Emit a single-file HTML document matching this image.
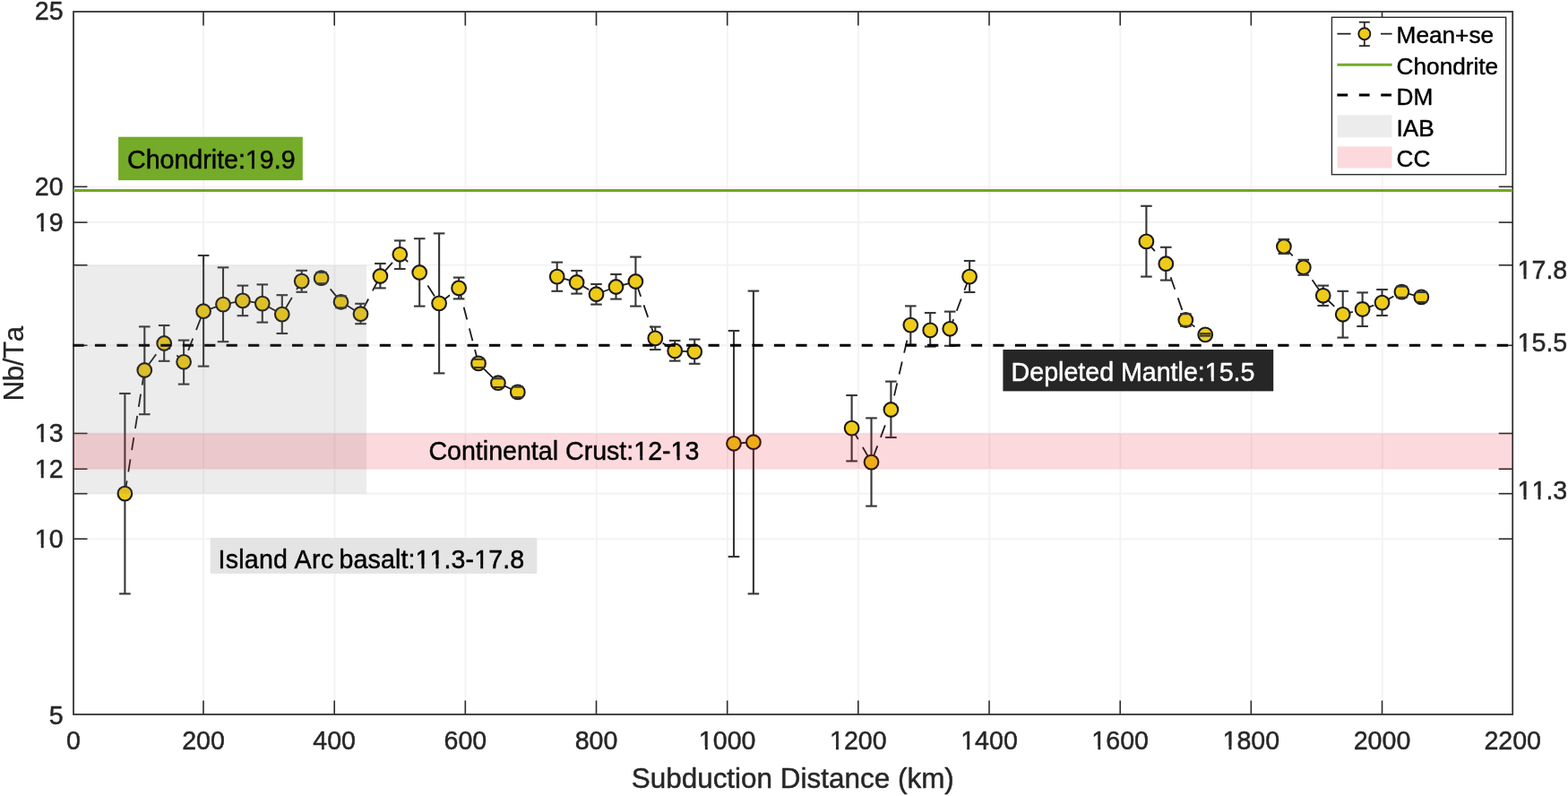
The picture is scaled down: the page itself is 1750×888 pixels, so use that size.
<!DOCTYPE html>
<html lang="en">
<head>
<meta charset="utf-8">
<title>Nb/Ta vs Subduction Distance</title>
<style>
html,body{margin:0;padding:0;background:#ffffff;}
body{width:1750px;height:888px;overflow:hidden;}
svg{display:block;}
</style>
</head>
<body>
<svg width="1750" height="888" viewBox="0 0 1750 888" font-family='"Liberation Sans", Arial, Helvetica, sans-serif'>
<style>text{stroke-width:0.45px;stroke-linejoin:round;paint-order:stroke fill;font-kerning:none;white-space:pre}</style>
<rect x="0" y="0" width="1750" height="888" fill="#ffffff"/>
<g stroke="#f3f3f3" stroke-width="2" fill="none">
<line x1="227.2" y1="13.0" x2="227.2" y2="797.0"/>
<line x1="373.4" y1="13.0" x2="373.4" y2="797.0"/>
<line x1="519.5" y1="13.0" x2="519.5" y2="797.0"/>
<line x1="665.7" y1="13.0" x2="665.7" y2="797.0"/>
<line x1="811.9" y1="13.0" x2="811.9" y2="797.0"/>
<line x1="958.0" y1="13.0" x2="958.0" y2="797.0"/>
<line x1="1104.2" y1="13.0" x2="1104.2" y2="797.0"/>
<line x1="1250.4" y1="13.0" x2="1250.4" y2="797.0"/>
<line x1="1396.5" y1="13.0" x2="1396.5" y2="797.0"/>
<line x1="1542.7" y1="13.0" x2="1542.7" y2="797.0"/>
<line x1="82.0" y1="601.2" x2="1688.2" y2="601.2"/>
<line x1="82.0" y1="523.2" x2="1688.2" y2="523.2"/>
<line x1="82.0" y1="483.5" x2="1688.2" y2="483.5"/>
<line x1="82.0" y1="248.1" x2="1688.2" y2="248.1"/>
<line x1="82.0" y1="550.7" x2="1688.2" y2="550.7"/>
<line x1="82.0" y1="385.3" x2="1688.2" y2="385.3"/>
<line x1="82.0" y1="295.8" x2="1688.2" y2="295.8"/>
</g>
<rect x="82.0" y="13.0" width="1606.2" height="784.0" fill="none" stroke="#2e2e2e" stroke-width="1.75"/>
<g stroke="#2e2e2e" stroke-width="1.6" fill="none">
<line x1="227.0" y1="797.0" x2="227.0" y2="781.5"/>
<line x1="227.0" y1="13.0" x2="227.0" y2="28.5"/>
<line x1="373.2" y1="797.0" x2="373.2" y2="781.5"/>
<line x1="373.2" y1="13.0" x2="373.2" y2="28.5"/>
<line x1="519.3" y1="797.0" x2="519.3" y2="781.5"/>
<line x1="519.3" y1="13.0" x2="519.3" y2="28.5"/>
<line x1="665.5" y1="797.0" x2="665.5" y2="781.5"/>
<line x1="665.5" y1="13.0" x2="665.5" y2="28.5"/>
<line x1="811.7" y1="797.0" x2="811.7" y2="781.5"/>
<line x1="811.7" y1="13.0" x2="811.7" y2="28.5"/>
<line x1="957.8" y1="797.0" x2="957.8" y2="781.5"/>
<line x1="957.8" y1="13.0" x2="957.8" y2="28.5"/>
<line x1="1104.0" y1="797.0" x2="1104.0" y2="781.5"/>
<line x1="1104.0" y1="13.0" x2="1104.0" y2="28.5"/>
<line x1="1250.2" y1="797.0" x2="1250.2" y2="781.5"/>
<line x1="1250.2" y1="13.0" x2="1250.2" y2="28.5"/>
<line x1="1396.3" y1="797.0" x2="1396.3" y2="781.5"/>
<line x1="1396.3" y1="13.0" x2="1396.3" y2="28.5"/>
<line x1="1542.5" y1="797.0" x2="1542.5" y2="781.5"/>
<line x1="1542.5" y1="13.0" x2="1542.5" y2="28.5"/>
<line x1="82.0" y1="601.2" x2="97.5" y2="601.2"/>
<line x1="1688.2" y1="601.2" x2="1672.7" y2="601.2"/>
<line x1="82.0" y1="523.2" x2="97.5" y2="523.2"/>
<line x1="1688.2" y1="523.2" x2="1672.7" y2="523.2"/>
<line x1="82.0" y1="483.5" x2="97.5" y2="483.5"/>
<line x1="1688.2" y1="483.5" x2="1672.7" y2="483.5"/>
<line x1="82.0" y1="248.1" x2="97.5" y2="248.1"/>
<line x1="1688.2" y1="248.1" x2="1672.7" y2="248.1"/>
<line x1="82.0" y1="208.3" x2="97.5" y2="208.3"/>
<line x1="1688.2" y1="208.3" x2="1672.7" y2="208.3"/>
<line x1="82.0" y1="550.7" x2="97.5" y2="550.7"/>
<line x1="1688.2" y1="550.7" x2="1672.7" y2="550.7"/>
<line x1="82.0" y1="385.3" x2="97.5" y2="385.3"/>
<line x1="1688.2" y1="385.3" x2="1672.7" y2="385.3"/>
<line x1="82.0" y1="295.8" x2="97.5" y2="295.8"/>
<line x1="1688.2" y1="295.8" x2="1672.7" y2="295.8"/>
</g>
<line x1="99.0" y1="208.4" x2="1671.2" y2="208.4" stroke="#fbf1f6" stroke-width="1.6"/>
<line x1="82.0" y1="212.6" x2="1688.2" y2="212.6" stroke="#70a824" stroke-width="3"/>
<g stroke="#1c1c1c" stroke-width="1.8" fill="none" stroke-dasharray="14.3 10.2">
<polyline points="139.4,550.6 161.3,413.0 183.2,383.0 205.1,403.8 227.1,347.2 249.0,339.6 270.9,335.4 292.8,338.6 314.8,350.6 336.7,313.6 358.6,310.2 380.5,336.8 402.5,350.2 424.4,308.0 446.3,283.8 468.2,304.0 490.1,338.4 512.1,321.4 534.0,405.4 555.9,427.2 577.8,437.4"/>
<polyline points="621.7,308.6 643.6,315.0 665.5,328.2 687.5,320.0 709.4,314.0 731.3,377.4 753.2,391.4 775.2,392.4"/>
<polyline points="819.0,494.8 840.9,493.2"/>
<polyline points="950.6,477.6 972.5,515.6 994.4,457.0 1016.3,362.6 1038.2,368.4 1060.2,366.8 1082.1,308.6"/>
<polyline points="1279.4,269.4 1301.3,294.2 1323.3,357.0 1345.2,373.4"/>
<polyline points="1432.9,275.0 1454.8,298.2 1476.7,329.8 1498.7,350.8 1520.6,345.0 1542.5,337.6 1564.4,325.6 1586.3,331.4"/>
</g>
<g stroke="#363636" stroke-width="2.1" fill="none">
<line x1="139.4" y1="439.0" x2="139.4" y2="662.4"/>
<line x1="161.3" y1="364.4" x2="161.3" y2="462.2"/>
<line x1="183.2" y1="363.0" x2="183.2" y2="402.8"/>
<line x1="205.1" y1="379.6" x2="205.1" y2="428.6"/>
<line x1="227.1" y1="285.0" x2="227.1" y2="408.6"/>
<line x1="249.0" y1="298.4" x2="249.0" y2="381.2"/>
<line x1="270.9" y1="318.6" x2="270.9" y2="352.2"/>
<line x1="292.8" y1="317.4" x2="292.8" y2="359.6"/>
<line x1="314.8" y1="329.2" x2="314.8" y2="372.0"/>
<line x1="336.7" y1="301.8" x2="336.7" y2="325.8"/>
<line x1="358.6" y1="304.0" x2="358.6" y2="316.2"/>
<line x1="380.5" y1="330.3" x2="380.5" y2="343.3"/>
<line x1="402.5" y1="338.8" x2="402.5" y2="361.2"/>
<line x1="424.4" y1="294.0" x2="424.4" y2="321.4"/>
<line x1="446.3" y1="268.4" x2="446.3" y2="300.0"/>
<line x1="468.2" y1="266.2" x2="468.2" y2="341.6"/>
<line x1="490.1" y1="260.4" x2="490.1" y2="416.4"/>
<line x1="512.1" y1="309.6" x2="512.1" y2="333.4"/>
<line x1="534.0" y1="400.8" x2="534.0" y2="410.0"/>
<line x1="555.9" y1="422.3" x2="555.9" y2="432.0"/>
<line x1="577.8" y1="431.6" x2="577.8" y2="443.2"/>
<line x1="621.7" y1="292.6" x2="621.7" y2="324.8"/>
<line x1="643.6" y1="302.0" x2="643.6" y2="327.6"/>
<line x1="665.5" y1="317.0" x2="665.5" y2="339.6"/>
<line x1="687.5" y1="306.0" x2="687.5" y2="333.6"/>
<line x1="709.4" y1="286.6" x2="709.4" y2="341.6"/>
<line x1="731.3" y1="364.6" x2="731.3" y2="390.0"/>
<line x1="753.2" y1="380.0" x2="753.2" y2="402.6"/>
<line x1="775.2" y1="378.6" x2="775.2" y2="405.8"/>
<line x1="819.0" y1="369.0" x2="819.0" y2="621.0"/>
<line x1="840.9" y1="324.6" x2="840.9" y2="662.4"/>
<line x1="950.6" y1="441.0" x2="950.6" y2="514.4"/>
<line x1="972.5" y1="466.4" x2="972.5" y2="564.6"/>
<line x1="994.4" y1="425.6" x2="994.4" y2="488.0"/>
<line x1="1016.3" y1="341.4" x2="1016.3" y2="384.6"/>
<line x1="1038.2" y1="349.0" x2="1038.2" y2="386.6"/>
<line x1="1060.2" y1="347.6" x2="1060.2" y2="385.8"/>
<line x1="1082.1" y1="291.0" x2="1082.1" y2="326.0"/>
<line x1="1279.4" y1="229.8" x2="1279.4" y2="308.6"/>
<line x1="1301.3" y1="275.8" x2="1301.3" y2="312.6"/>
<line x1="1323.3" y1="350.2" x2="1323.3" y2="363.8"/>
<line x1="1345.2" y1="372.2" x2="1345.2" y2="374.6"/>
<line x1="1432.9" y1="267.0" x2="1432.9" y2="283.0"/>
<line x1="1454.8" y1="289.8" x2="1454.8" y2="306.8"/>
<line x1="1476.7" y1="318.6" x2="1476.7" y2="341.0"/>
<line x1="1498.7" y1="324.8" x2="1498.7" y2="376.6"/>
<line x1="1520.6" y1="326.4" x2="1520.6" y2="364.0"/>
<line x1="1542.5" y1="323.0" x2="1542.5" y2="352.0"/>
<line x1="1564.4" y1="319.6" x2="1564.4" y2="331.8"/>
<line x1="1586.3" y1="326.0" x2="1586.3" y2="337.0"/>
</g>
<g stroke="#1a1a1a" stroke-width="2.1" fill="#eecb18">
<circle cx="139.4" cy="550.6" r="7.85"/>
<circle cx="161.3" cy="413.0" r="7.85"/>
<circle cx="183.2" cy="383.0" r="7.85"/>
<circle cx="205.1" cy="403.8" r="7.85"/>
<circle cx="227.1" cy="347.2" r="7.85"/>
<circle cx="249.0" cy="339.6" r="7.85"/>
<circle cx="270.9" cy="335.4" r="7.85"/>
<circle cx="292.8" cy="338.6" r="7.85"/>
<circle cx="314.8" cy="350.6" r="7.85"/>
<circle cx="336.7" cy="313.6" r="7.85"/>
<circle cx="358.6" cy="310.2" r="7.85"/>
<circle cx="380.5" cy="336.8" r="7.85"/>
<circle cx="402.5" cy="350.2" r="7.85"/>
<circle cx="424.4" cy="308.0" r="7.85"/>
<circle cx="446.3" cy="283.8" r="7.85"/>
<circle cx="468.2" cy="304.0" r="7.85"/>
<circle cx="490.1" cy="338.4" r="7.85"/>
<circle cx="512.1" cy="321.4" r="7.85"/>
<circle cx="534.0" cy="405.4" r="7.85"/>
<circle cx="555.9" cy="427.2" r="7.85"/>
<circle cx="577.8" cy="437.4" r="7.85"/>
<circle cx="621.7" cy="308.6" r="7.85"/>
<circle cx="643.6" cy="315.0" r="7.85"/>
<circle cx="665.5" cy="328.2" r="7.85"/>
<circle cx="687.5" cy="320.0" r="7.85"/>
<circle cx="709.4" cy="314.0" r="7.85"/>
<circle cx="731.3" cy="377.4" r="7.85"/>
<circle cx="753.2" cy="391.4" r="7.85"/>
<circle cx="775.2" cy="392.4" r="7.85"/>
<circle cx="819.0" cy="494.8" r="7.85"/>
<circle cx="840.9" cy="493.2" r="7.85"/>
<circle cx="950.6" cy="477.6" r="7.85"/>
<circle cx="972.5" cy="515.6" r="7.85"/>
<circle cx="994.4" cy="457.0" r="7.85"/>
<circle cx="1016.3" cy="362.6" r="7.85"/>
<circle cx="1038.2" cy="368.4" r="7.85"/>
<circle cx="1060.2" cy="366.8" r="7.85"/>
<circle cx="1082.1" cy="308.6" r="7.85"/>
<circle cx="1279.4" cy="269.4" r="7.85"/>
<circle cx="1301.3" cy="294.2" r="7.85"/>
<circle cx="1323.3" cy="357.0" r="7.85"/>
<circle cx="1345.2" cy="373.4" r="7.85"/>
<circle cx="1432.9" cy="275.0" r="7.85"/>
<circle cx="1454.8" cy="298.2" r="7.85"/>
<circle cx="1476.7" cy="329.8" r="7.85"/>
<circle cx="1498.7" cy="350.8" r="7.85"/>
<circle cx="1520.6" cy="345.0" r="7.85"/>
<circle cx="1542.5" cy="337.6" r="7.85"/>
<circle cx="1564.4" cy="325.6" r="7.85"/>
<circle cx="1586.3" cy="331.4" r="7.85"/>
</g>
<g stroke="#363636" stroke-width="2.1" fill="none">
<line x1="133.1" y1="439.0" x2="145.7" y2="439.0"/>
<line x1="133.1" y1="662.4" x2="145.7" y2="662.4"/>
<line x1="155.0" y1="364.4" x2="167.6" y2="364.4"/>
<line x1="155.0" y1="462.2" x2="167.6" y2="462.2"/>
<line x1="176.9" y1="363.0" x2="189.5" y2="363.0"/>
<line x1="176.9" y1="402.8" x2="189.5" y2="402.8"/>
<line x1="198.8" y1="379.6" x2="211.4" y2="379.6"/>
<line x1="198.8" y1="428.6" x2="211.4" y2="428.6"/>
<line x1="220.8" y1="285.0" x2="233.4" y2="285.0"/>
<line x1="220.8" y1="408.6" x2="233.4" y2="408.6"/>
<line x1="242.7" y1="298.4" x2="255.3" y2="298.4"/>
<line x1="242.7" y1="381.2" x2="255.3" y2="381.2"/>
<line x1="264.6" y1="318.6" x2="277.2" y2="318.6"/>
<line x1="264.6" y1="352.2" x2="277.2" y2="352.2"/>
<line x1="286.5" y1="317.4" x2="299.1" y2="317.4"/>
<line x1="286.5" y1="359.6" x2="299.1" y2="359.6"/>
<line x1="308.5" y1="329.2" x2="321.1" y2="329.2"/>
<line x1="308.5" y1="372.0" x2="321.1" y2="372.0"/>
<line x1="330.4" y1="301.8" x2="343.0" y2="301.8"/>
<line x1="330.4" y1="325.8" x2="343.0" y2="325.8"/>
<line x1="352.3" y1="304.0" x2="364.9" y2="304.0"/>
<line x1="352.3" y1="316.2" x2="364.9" y2="316.2"/>
<line x1="374.2" y1="330.3" x2="386.8" y2="330.3"/>
<line x1="374.2" y1="343.3" x2="386.8" y2="343.3"/>
<line x1="396.2" y1="338.8" x2="408.8" y2="338.8"/>
<line x1="396.2" y1="361.2" x2="408.8" y2="361.2"/>
<line x1="418.1" y1="294.0" x2="430.7" y2="294.0"/>
<line x1="418.1" y1="321.4" x2="430.7" y2="321.4"/>
<line x1="440.0" y1="268.4" x2="452.6" y2="268.4"/>
<line x1="440.0" y1="300.0" x2="452.6" y2="300.0"/>
<line x1="461.9" y1="266.2" x2="474.5" y2="266.2"/>
<line x1="461.9" y1="341.6" x2="474.5" y2="341.6"/>
<line x1="483.8" y1="260.4" x2="496.4" y2="260.4"/>
<line x1="483.8" y1="416.4" x2="496.4" y2="416.4"/>
<line x1="505.8" y1="309.6" x2="518.4" y2="309.6"/>
<line x1="505.8" y1="333.4" x2="518.4" y2="333.4"/>
<line x1="527.7" y1="400.8" x2="540.3" y2="400.8"/>
<line x1="527.7" y1="410.0" x2="540.3" y2="410.0"/>
<line x1="549.6" y1="422.3" x2="562.2" y2="422.3"/>
<line x1="549.6" y1="432.0" x2="562.2" y2="432.0"/>
<line x1="571.5" y1="431.6" x2="584.1" y2="431.6"/>
<line x1="571.5" y1="443.2" x2="584.1" y2="443.2"/>
<line x1="615.4" y1="292.6" x2="628.0" y2="292.6"/>
<line x1="615.4" y1="324.8" x2="628.0" y2="324.8"/>
<line x1="637.3" y1="302.0" x2="649.9" y2="302.0"/>
<line x1="637.3" y1="327.6" x2="649.9" y2="327.6"/>
<line x1="659.2" y1="317.0" x2="671.8" y2="317.0"/>
<line x1="659.2" y1="339.6" x2="671.8" y2="339.6"/>
<line x1="681.2" y1="306.0" x2="693.8" y2="306.0"/>
<line x1="681.2" y1="333.6" x2="693.8" y2="333.6"/>
<line x1="703.1" y1="286.6" x2="715.7" y2="286.6"/>
<line x1="703.1" y1="341.6" x2="715.7" y2="341.6"/>
<line x1="725.0" y1="364.6" x2="737.6" y2="364.6"/>
<line x1="725.0" y1="390.0" x2="737.6" y2="390.0"/>
<line x1="746.9" y1="380.0" x2="759.5" y2="380.0"/>
<line x1="746.9" y1="402.6" x2="759.5" y2="402.6"/>
<line x1="768.9" y1="378.6" x2="781.5" y2="378.6"/>
<line x1="768.9" y1="405.8" x2="781.5" y2="405.8"/>
<line x1="812.7" y1="369.0" x2="825.3" y2="369.0"/>
<line x1="812.7" y1="621.0" x2="825.3" y2="621.0"/>
<line x1="834.6" y1="324.6" x2="847.2" y2="324.6"/>
<line x1="834.6" y1="662.4" x2="847.2" y2="662.4"/>
<line x1="944.3" y1="441.0" x2="956.9" y2="441.0"/>
<line x1="944.3" y1="514.4" x2="956.9" y2="514.4"/>
<line x1="966.2" y1="466.4" x2="978.8" y2="466.4"/>
<line x1="966.2" y1="564.6" x2="978.8" y2="564.6"/>
<line x1="988.1" y1="425.6" x2="1000.7" y2="425.6"/>
<line x1="988.1" y1="488.0" x2="1000.7" y2="488.0"/>
<line x1="1010.0" y1="341.4" x2="1022.6" y2="341.4"/>
<line x1="1010.0" y1="384.6" x2="1022.6" y2="384.6"/>
<line x1="1031.9" y1="349.0" x2="1044.5" y2="349.0"/>
<line x1="1031.9" y1="386.6" x2="1044.5" y2="386.6"/>
<line x1="1053.9" y1="347.6" x2="1066.5" y2="347.6"/>
<line x1="1053.9" y1="385.8" x2="1066.5" y2="385.8"/>
<line x1="1075.8" y1="291.0" x2="1088.4" y2="291.0"/>
<line x1="1075.8" y1="326.0" x2="1088.4" y2="326.0"/>
<line x1="1273.1" y1="229.8" x2="1285.7" y2="229.8"/>
<line x1="1273.1" y1="308.6" x2="1285.7" y2="308.6"/>
<line x1="1295.0" y1="275.8" x2="1307.6" y2="275.8"/>
<line x1="1295.0" y1="312.6" x2="1307.6" y2="312.6"/>
<line x1="1317.0" y1="350.2" x2="1329.6" y2="350.2"/>
<line x1="1317.0" y1="363.8" x2="1329.6" y2="363.8"/>
<line x1="1338.9" y1="372.2" x2="1351.5" y2="372.2"/>
<line x1="1338.9" y1="374.6" x2="1351.5" y2="374.6"/>
<line x1="1426.6" y1="267.0" x2="1439.2" y2="267.0"/>
<line x1="1426.6" y1="283.0" x2="1439.2" y2="283.0"/>
<line x1="1448.5" y1="289.8" x2="1461.1" y2="289.8"/>
<line x1="1448.5" y1="306.8" x2="1461.1" y2="306.8"/>
<line x1="1470.4" y1="318.6" x2="1483.0" y2="318.6"/>
<line x1="1470.4" y1="341.0" x2="1483.0" y2="341.0"/>
<line x1="1492.4" y1="324.8" x2="1505.0" y2="324.8"/>
<line x1="1492.4" y1="376.6" x2="1505.0" y2="376.6"/>
<line x1="1514.3" y1="326.4" x2="1526.9" y2="326.4"/>
<line x1="1514.3" y1="364.0" x2="1526.9" y2="364.0"/>
<line x1="1536.2" y1="323.0" x2="1548.8" y2="323.0"/>
<line x1="1536.2" y1="352.0" x2="1548.8" y2="352.0"/>
<line x1="1558.1" y1="319.6" x2="1570.7" y2="319.6"/>
<line x1="1558.1" y1="331.8" x2="1570.7" y2="331.8"/>
<line x1="1580.0" y1="326.0" x2="1592.6" y2="326.0"/>
<line x1="1580.0" y1="337.0" x2="1592.6" y2="337.0"/>
</g>
<line x1="81.5" y1="385.2" x2="1688.2" y2="385.2" stroke="#000000" stroke-width="3" stroke-dasharray="12.2 12.25"/>
<rect x="82.0" y="295.8" width="327.2" height="254.9" fill="#808080" fill-opacity="0.15"/>
<rect x="82.0" y="483.5" width="1606.2" height="39.4" fill="#eb001c" fill-opacity="0.15"/>
<text x="74.05" y="836.00" font-size="28.6" fill="#262626" stroke="#262626">0</text>
<text x="203.16" y="836.00" font-size="28.6" fill="#262626" stroke="#262626">200</text>
<text x="349.32" y="836.00" font-size="28.6" fill="#262626" stroke="#262626">400</text>
<text x="495.49" y="836.00" font-size="28.6" fill="#262626" stroke="#262626">600</text>
<text x="641.66" y="836.00" font-size="28.6" fill="#262626" stroke="#262626">800</text>
<text x="779.87" y="836.00" font-size="28.6" fill="#262626" stroke="#262626">1000</text>
<rect x="780.42" y="832.34" width="6.41" height="4.89" fill="#ffffff"/>
<rect x="789.81" y="832.34" width="6.19" height="4.89" fill="#ffffff"/>
<text x="926.03" y="836.00" font-size="28.6" fill="#262626" stroke="#262626">1200</text>
<rect x="926.59" y="832.34" width="6.41" height="4.89" fill="#ffffff"/>
<rect x="935.98" y="832.34" width="6.19" height="4.89" fill="#ffffff"/>
<text x="1072.20" y="836.00" font-size="28.6" fill="#262626" stroke="#262626">1400</text>
<rect x="1072.75" y="832.34" width="6.41" height="4.89" fill="#ffffff"/>
<rect x="1082.14" y="832.34" width="6.19" height="4.89" fill="#ffffff"/>
<text x="1218.37" y="836.00" font-size="28.6" fill="#262626" stroke="#262626">1600</text>
<rect x="1218.92" y="832.34" width="6.41" height="4.89" fill="#ffffff"/>
<rect x="1228.31" y="832.34" width="6.19" height="4.89" fill="#ffffff"/>
<text x="1364.53" y="836.00" font-size="28.6" fill="#262626" stroke="#262626">1800</text>
<rect x="1365.09" y="832.34" width="6.41" height="4.89" fill="#ffffff"/>
<rect x="1374.48" y="832.34" width="6.19" height="4.89" fill="#ffffff"/>
<text x="1510.70" y="836.00" font-size="28.6" fill="#262626" stroke="#262626">2000</text>
<text x="1656.39" y="836.00" font-size="28.6" fill="#262626" stroke="#262626">2200</text>
<text x="54.69" y="808.00" font-size="28.6" fill="#262626" stroke="#262626">5</text>
<text x="38.79" y="611.00" font-size="28.6" fill="#262626" stroke="#262626">10</text>
<rect x="39.34" y="607.34" width="6.41" height="4.89" fill="#ffffff"/>
<rect x="48.73" y="607.34" width="6.19" height="4.89" fill="#ffffff"/>
<text x="38.79" y="533.00" font-size="28.6" fill="#262626" stroke="#262626">12</text>
<rect x="39.34" y="529.34" width="6.41" height="4.89" fill="#ffffff"/>
<rect x="48.73" y="529.34" width="6.19" height="4.89" fill="#ffffff"/>
<text x="38.79" y="493.00" font-size="28.6" fill="#262626" stroke="#262626">13</text>
<rect x="39.34" y="489.34" width="6.41" height="4.89" fill="#ffffff"/>
<rect x="48.73" y="489.34" width="6.19" height="4.89" fill="#ffffff"/>
<text x="38.79" y="258.00" font-size="28.6" fill="#262626" stroke="#262626">19</text>
<rect x="39.34" y="254.34" width="6.41" height="4.89" fill="#ffffff"/>
<rect x="48.73" y="254.34" width="6.19" height="4.89" fill="#ffffff"/>
<text x="38.79" y="218.00" font-size="28.6" fill="#262626" stroke="#262626">20</text>
<text x="38.79" y="22.00" font-size="28.6" fill="#262626" stroke="#262626">25</text>
<text x="1693.60" y="311.00" font-size="28.6" fill="#262626" stroke="#262626">17.8</text>
<rect x="1694.15" y="307.34" width="6.41" height="4.89" fill="#ffffff"/>
<rect x="1703.54" y="307.34" width="6.19" height="4.89" fill="#ffffff"/>
<text x="1693.60" y="392.00" font-size="28.6" fill="#262626" stroke="#262626">15.5</text>
<rect x="1694.15" y="388.34" width="6.41" height="4.89" fill="#ffffff"/>
<rect x="1703.54" y="388.34" width="6.19" height="4.89" fill="#ffffff"/>
<text x="1693.60" y="557.00" font-size="28.6" fill="#262626" stroke="#262626">11.3</text>
<rect x="1694.15" y="553.34" width="6.41" height="4.89" fill="#ffffff"/>
<rect x="1703.54" y="553.34" width="6.19" height="4.89" fill="#ffffff"/>
<rect x="1710.06" y="553.34" width="6.41" height="4.89" fill="#ffffff"/>
<rect x="1719.45" y="553.34" width="6.19" height="4.89" fill="#ffffff"/>
<text x="704.70" y="879.00" font-size="31.46" fill="#262626" stroke="#262626">Subduction Distance (km)</text>
<text transform="translate(26.2,405.8) rotate(-90)" text-anchor="middle" font-size="31.46" fill="#262626" stroke="#262626" style="stroke-width:0.25px" letter-spacing="-0.5">Nb/Ta</text>
<rect x="132.1" y="152.7" width="205.7" height="48.4" fill="#74ab28"/>
<text x="142.00" y="188.00" font-size="28.6" fill="#000" stroke="#000">Chondrite:19.9</text>
<rect x="274.51" y="184.34" width="6.41" height="4.89" fill="#74ab28"/>
<rect x="283.90" y="184.34" width="6.19" height="4.89" fill="#74ab28"/>
<rect x="1119.4" y="390.0" width="301.8" height="46.4" fill="#262626"/>
<text x="1128.60" y="425.00" font-size="28.6" fill="#fff" stroke="#fff">Depleted Mantle:15.5</text>
<rect x="1345.37" y="421.34" width="6.41" height="4.89" fill="#262626"/>
<rect x="1354.76" y="421.34" width="6.19" height="4.89" fill="#262626"/>
<rect x="234.7" y="600.0" width="364.6" height="39.9" fill="#e4e4e4"/>
<text y="634" font-size="28.6" fill="#000" stroke="#000"><tspan x="243.6" letter-spacing="0.2">Island </tspan><tspan x="328.4" letter-spacing="0.5">Arc </tspan><tspan x="378.6" letter-spacing="0.1">basalt:11.3-17.8</tspan></text>
<rect x="464.12" y="630.34" width="6.41" height="4.89" fill="#e4e4e4"/>
<rect x="473.51" y="630.34" width="6.19" height="4.89" fill="#e4e4e4"/>
<rect x="480.12" y="630.34" width="6.41" height="4.89" fill="#e4e4e4"/>
<rect x="489.51" y="630.34" width="6.19" height="4.89" fill="#e4e4e4"/>
<rect x="529.81" y="630.34" width="6.41" height="4.89" fill="#e4e4e4"/>
<rect x="539.20" y="630.34" width="6.19" height="4.89" fill="#e4e4e4"/>
<text x="478.40" y="513.00" font-size="28.6" fill="#000" stroke="#000">Continental Crust:12-13</text>
<rect x="707.87" y="509.34" width="6.41" height="4.89" fill="#fcd9dd"/>
<rect x="717.26" y="509.34" width="6.19" height="4.89" fill="#fcd9dd"/>
<rect x="749.20" y="509.34" width="6.41" height="4.89" fill="#fcd9dd"/>
<rect x="758.59" y="509.34" width="6.19" height="4.89" fill="#fcd9dd"/>
<rect x="1486.4" y="19.3" width="194.3" height="175.4" fill="#ffffff" stroke="#2e2e2e" stroke-width="1.4"/>
<g stroke="#262626" stroke-width="1.8" fill="none">
<line x1="1492.4" y1="37.7" x2="1507.6" y2="37.7"/><line x1="1541" y1="37.7" x2="1553.6" y2="37.7"/>
<line x1="1522.8" y1="24.7" x2="1522.8" y2="51.2"/>
<line x1="1516.8" y1="24.7" x2="1528.8" y2="24.7"/><line x1="1516.8" y1="51.2" x2="1528.8" y2="51.2"/>
</g>
<circle cx="1522.8" cy="37.7" r="6.5" fill="#eecb18" stroke="#1a1a1a" stroke-width="1.9"/>
<line x1="1492.4" y1="72.3" x2="1553.6" y2="72.3" stroke="#74ab28" stroke-width="3"/>
<line x1="1492.4" y1="106" x2="1553.6" y2="106" stroke="#000" stroke-width="3" stroke-dasharray="11.8 12.6"/>
<rect x="1492.5" y="128.4" width="61" height="24.9" fill="#ececec"/>
<rect x="1492.5" y="163.4" width="61" height="24.1" fill="#fcd9dd"/>
<g fill="#000" stroke="#000" font-size="26.2">
<text x="1558.6" y="48">Mean+se</text>
<text x="1558.6" y="83">Chondrite</text>
<text x="1558.6" y="117">DM</text>
<text x="1558.6" y="152">IAB</text>
<text x="1558.6" y="186">CC</text>
</g>
</svg>
</body>
</html>
